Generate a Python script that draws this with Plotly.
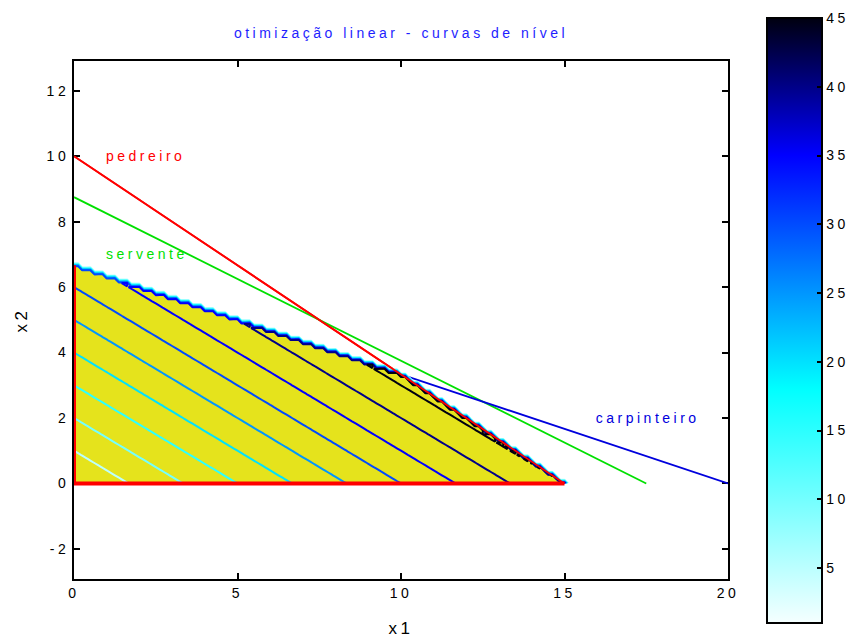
import numpy as np
import plotly.graph_objects as go

# ---------------- data ----------------
constraint_names = ["pedreiro", "servente", "carpinteiro"]
coef_x1 = [2.0, 1.0, 1.0]      # coefficient of x1 in each constraint
coef_x2 = [3.0, 2.0, 3.0]      # coefficient of x2 in each constraint
rhs = [30.0, 17.5, 20.0]       # right-hand side
objective = [3.0, 5.0]         # z = 3 x1 + 5 x2
levels = [5, 10, 15, 20, 25, 30, 35, 40, 45]
label_x = [1.0, 1.0, 16.0]
label_y = [10.0, 7.0, 2.0]
x_ticks = [0, 5, 10, 15, 20]
y_ticks = [-2, 0, 2, 4, 6, 8, 10, 12]
cbar_ticks = [5, 10, 15, 20, 25, 30, 35, 40, 45]

# ---------------- styles ----------------
line_colors = ["#ff0000", "#00e000", "#0000dd"]
FONT = "Liberation Sans, Arial, sans-serif"
FS = 14
LS = 3.5   # letter spacing (px)
YELLOW = "#e5e31c"
ZMIN, ZMAX = 1.0, 45.0

# colour map (fraction 0..1 over [ZMIN, ZMAX])
cmap_stops = [(0.0, (245, 255, 255)), (0.387, (0, 255, 255)),
              (0.773, (0, 0, 255)), (1.0, (0, 0, 16))]


def cmap(f):
    f = min(max(f, 0.0), 1.0)
    for (f0, c0), (f1, c1) in zip(cmap_stops[:-1], cmap_stops[1:]):
        if f <= f1:
            t = (f - f0) / (f1 - f0) if f1 > f0 else 0
            c = [round(a + (b - a) * t) for a, b in zip(c0, c1)]
            return "rgb(%d,%d,%d)" % tuple(c)
    return "rgb(%d,%d,%d)" % cmap_stops[-1][1]


bar_scale = [[f, "rgb(%d,%d,%d)" % c] for f, c in cmap_stops]
lv0, lv1 = levels[0], levels[-1]
line_scale = [[(L - lv0) / (lv1 - lv0), cmap((L - ZMIN) / (ZMAX - ZMIN))] for L in levels]

# ---------------- grid ----------------
STEP = 0.125
gx = np.round(np.arange(0, 20.0001, STEP), 4)
gy = np.round(np.arange(0, 10.0001, STEP), 4)
X, Y = np.meshgrid(gx, gy)
feas = np.ones_like(X, dtype=bool)
for a1, a2, b in zip(coef_x1, coef_x2, rhs):
    feas &= (a1 * X + a2 * Y) <= b + 1e-9
Z = np.where(feas, objective[0] * X + objective[1] * Y, 0.0)
M = np.where(feas, 2.0, 0.0)

x_int = min(b / a for a, b in zip(coef_x1, rhs))
y_int = min(b / a for a, b in zip(coef_x2, rhs))

fig = go.Figure()

# constraint lines (base subplot, beneath the region)
for name, a1, a2, b, col in zip(constraint_names, coef_x1, coef_x2, rhs, line_colors):
    fig.add_trace(go.Scatter(x=[0, b / a1], y=[b / a2, 0], mode="lines",
                             line=dict(color=col, width=1.8), name=name,
                             showlegend=False, hoverinfo="skip"))

# dummy trace carrying the colour bar
fig.add_trace(go.Scatter(
    x=[None, None], y=[None, None], mode="markers", showlegend=False,
    marker=dict(color=[ZMIN, ZMAX], cmin=ZMIN, cmax=ZMAX, colorscale=bar_scale,
                showscale=True,
                colorbar=dict(
                    x=(767 - 74) / 654, xanchor="left", xpad=0, ypad=0,
                    y=(579 - (18 + 623) / 2) / 518, yanchor="middle",
                    lenmode="pixels", len=605, thickness=55,
                    outlinewidth=2, outlinecolor="black",
                    ticks="inside", ticklen=6, tickwidth=1.5, tickcolor="black",
                    tickvals=cbar_ticks, ticktext=[str(t) for t in cbar_ticks],
                    tickfont=dict(family=FONT, size=FS, color="black"),
                ))))

# feasible region (overlay subplot)
fig.add_trace(go.Contour(
    x=gx, y=gy, z=M, xaxis="x2", yaxis="y2", showscale=False,
    zmin=0, zmax=2, zauto=False,
    colorscale=[[0, "rgba(0,0,0,0)"], [0.5, "rgba(0,0,0,0)"], [0.5, YELLOW], [1, YELLOW]],
    contours=dict(start=1, end=1, size=1, coloring="fill"),
    line=dict(width=0), hoverinfo="skip"))

# pedreiro edge of the region, faintly visible under the level curves
fig.add_trace(go.Scatter(x=[0, rhs[0] / coef_x1[0]], y=[rhs[0] / coef_x2[0], 0],
                         xaxis="x2", yaxis="y2", mode="lines",
                         line=dict(color=line_colors[0], width=1.8),
                         showlegend=False, hoverinfo="skip"))

# level curves
fig.add_trace(go.Contour(
    x=gx, y=gy, z=Z, xaxis="x2", yaxis="y2", showscale=False,
    zmin=lv0, zmax=lv1, zauto=False, colorscale=line_scale,
    contours=dict(start=lv0, end=lv1, size=levels[1] - levels[0], coloring="lines"),
    line=dict(width=2, smoothing=0), hoverinfo="skip"))

# non-negativity boundaries of the region
fig.add_trace(go.Scatter(x=[0, x_int], y=[0, 0], xaxis="x2", yaxis="y2", mode="lines",
                         line=dict(color="#ff0000", width=4), showlegend=False, hoverinfo="skip"))
fig.add_trace(go.Scatter(x=[0, 0], y=[0, y_int], xaxis="x2", yaxis="y2", mode="lines",
                         line=dict(color="#ff0000", width=4), showlegend=False, hoverinfo="skip"))

for name, lx, ly, col in zip(constraint_names, label_x, label_y, line_colors):
    fig.add_annotation(x=lx, y=ly, text=name, showarrow=False, xanchor="left",
                       yanchor="middle", xshift=len(name) * LS / 2 - 3,
                       font=dict(family=FONT, size=FS, color=col))

XR = [0, 20]
YR = [-2.92, 12.91]
axis_common = dict(showline=True, linecolor="black", linewidth=2, mirror="ticks",
                   ticks="inside", ticklen=6, tickwidth=1.5, tickcolor="black",
                   showgrid=False, zeroline=False, layer="below traces",
                   tickfont=dict(family=FONT, size=FS, color="black"))

fig.update_layout(
    width=855, height=639,
    margin=dict(l=74, r=127, t=61, b=60, autoexpand=False),
    paper_bgcolor="white", plot_bgcolor="white",
    font=dict(family=FONT, size=FS, color="black"),
    title=dict(text="otimização linear - curvas de nível", x=0.5, xref="paper",
               y=1 - 33 / 639, yref="container", xanchor="center", yanchor="middle",
               font=dict(family=FONT, size=FS, color="#1e1eff")),
    xaxis=dict(range=XR, tickvals=x_ticks, ticktext=[str(t) for t in x_ticks],
               title=dict(text="x1", standoff=22), **axis_common),
    yaxis=dict(range=YR, tickvals=y_ticks, ticktext=[str(t) for t in y_ticks],
               title=dict(text="x2", standoff=22), **axis_common),
    xaxis2=dict(range=XR, overlaying="x", visible=False),
    yaxis2=dict(range=YR, overlaying="y", visible=False),
    showlegend=False,
)

post = ("document.body.style.margin='0';"
        "var s=document.createElement('style');"
        "s.textContent='body{margin:0;} .main-svg text{letter-spacing:%spx;}';"
        "document.head.appendChild(s);" % LS)
fig.write_html("out.html", post_script=post, config={"displayModeBar": False})
